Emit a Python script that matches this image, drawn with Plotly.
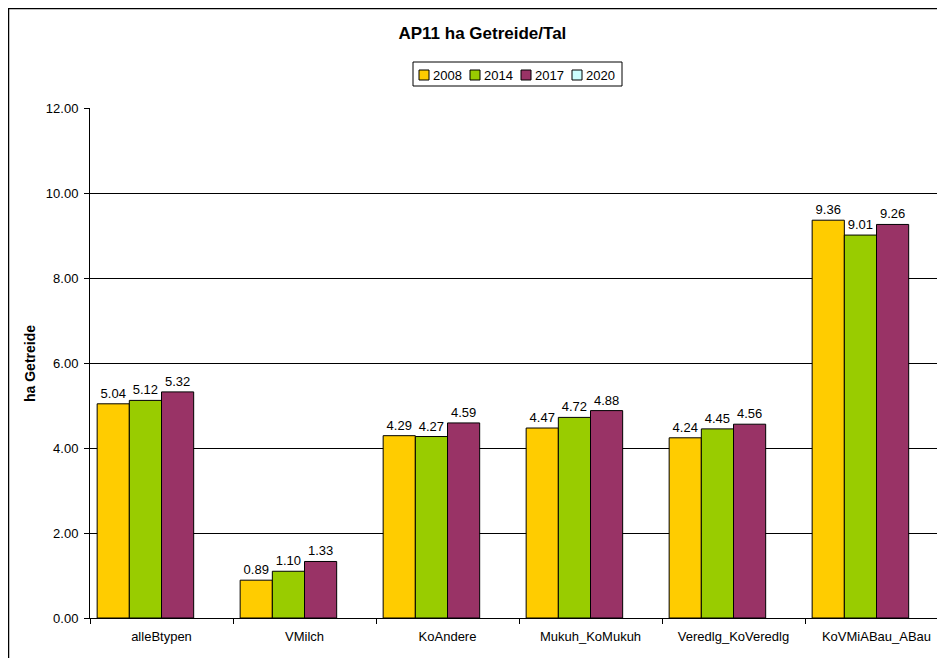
import plotly.graph_objects as go

# chart data
categories = ["alleBtypen", "VMilch", "KoAndere", "Mukuh_KoMukuh", "Veredlg_KoVeredlg", "KoVMiABau_ABau"]
years = ["2008", "2014", "2017", "2020"]
values_2008 = [5.04, 0.89, 4.29, 4.47, 4.24, 9.36]
values_2014 = [5.12, 1.10, 4.27, 4.72, 4.45, 9.01]
values_2017 = [5.32, 1.33, 4.59, 4.88, 4.56, 9.26]
values_2020 = [None, None, None, None, None, None]
y_ticks = [0, 2, 4, 6, 8, 10, 12]

series = [values_2008, values_2014, values_2017, values_2020]
colors = ["#FFCC00", "#99CC00", "#993366", "#CCFFFF"]

FONT = "Liberation Sans, Arial, sans-serif"

# plot area in figure pixels (page offset of 8px already removed)
L, T, W, H = 82, 100, 858, 510


def px_x(fx):
    return (fx - L) / W


def px_y(fy):
    return (T + H - fy) / H


fig = go.Figure()
for year, vals, col in zip(years, series, colors):
    fig.add_trace(go.Bar(
        x=categories,
        y=vals,
        name=year,
        marker=dict(color=col, line=dict(color="#000000", width=1)),
        text=[f"{v:.2f}" if v is not None else "" for v in vals],
        textposition="outside",
        textfont=dict(size=13, color="#000000", family=FONT),
        cliponaxis=False,
        showlegend=False,
    ))

# outer chart border
fig.add_shape(type="rect", xref="paper", yref="paper",
              x0=px_x(0.5), x1=1.02, y0=-0.15, y1=px_y(0.5),
              line=dict(color="#000000", width=1.5), layer="above")

# legend box drawn by hand to get the compact Excel look
fig.add_shape(type="rect", xref="paper", yref="paper",
              x0=px_x(405), x1=px_x(614), y0=px_y(78), y1=px_y(54),
              line=dict(color="#000000", width=1), fillcolor="#FFFFFF")
for i, (year, col) in enumerate(zip(years, colors)):
    sx = 411 + i * 51
    fig.add_shape(type="rect", xref="paper", yref="paper",
                  x0=px_x(sx), x1=px_x(sx + 10), y0=px_y(72), y1=px_y(62),
                  line=dict(color="#000000", width=1), fillcolor=col)
    fig.add_annotation(text=year, xref="paper", yref="paper",
                       x=px_x(sx + 12), y=px_y(67), xanchor="left", yanchor="middle",
                       showarrow=False, font=dict(size=13, family=FONT, color="#000000"))

# y axis title
fig.add_annotation(text="<b>ha Getreide</b>", xref="paper", yref="paper",
                   x=px_x(22), y=0.5, textangle=-90, showarrow=False,
                   xanchor="center", yanchor="middle",
                   font=dict(size=14, family=FONT, color="#000000"))

fig.update_layout(
    width=945,
    height=658,
    margin=dict(l=L, r=945 - L - W, t=T, b=658 - T - H, autoexpand=False),
    paper_bgcolor="#FFFFFF",
    plot_bgcolor="#FFFFFF",
    font=dict(family=FONT, size=13, color="#000000"),
    barmode="group",
    bargap=0.1,
    bargroupgap=0,
    title=dict(text="<b>AP11 ha Getreide/Tal</b>", x=0.502, xanchor="center",
               y=1 - 25 / 658, yanchor="middle", font=dict(size=17, family=FONT)),
    showlegend=False,
    xaxis=dict(
        type="category",
        showline=True, linecolor="#000000", linewidth=1,
        ticks="outside", tickson="boundaries", ticklen=5, tickcolor="#000000",
        tickfont=dict(size=13, family=FONT),
        ticklabelstandoff=6,
        showgrid=False,
    ),
    yaxis=dict(
        range=[0, 12],
        tickvals=y_ticks,
        tickformat=".2f",
        showline=True, linecolor="#000000", linewidth=1,
        ticks="outside", ticklen=5, tickcolor="#000000",
        showgrid=True, gridcolor="#000000", gridwidth=1,
        zeroline=False,
        tickfont=dict(size=13, family=FONT),
        ticklabelstandoff=3,
    ),
)

fig.write_html("out.html")
